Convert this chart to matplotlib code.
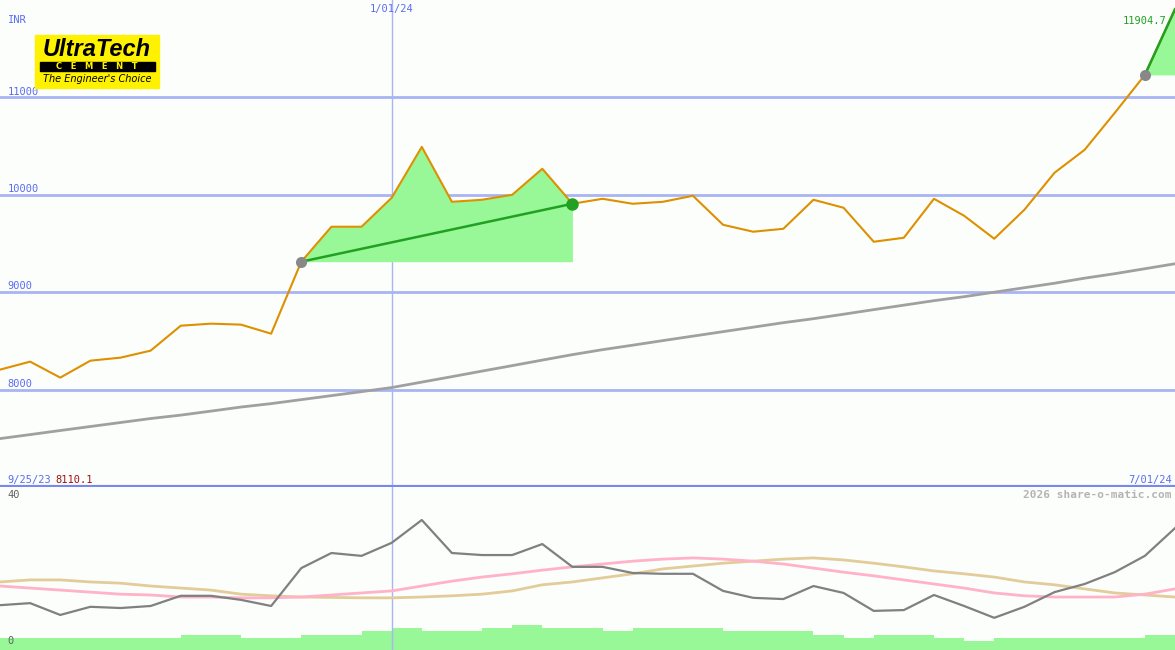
import numpy as np
import matplotlib
matplotlib.use("Agg")
import matplotlib.pyplot as plt
from matplotlib.patches import Rectangle

# weekly closes, 9/25/23 .. 7/01/24 (INR)
price = [8205, 8287, 8123, 8297, 8328, 8400, 8656, 8677, 8667, 8574,
         9313, 9672, 9672, 9969, 10492, 9928, 9949, 10000, 10267, 9908,
         9959, 9908, 9928, 9990, 9692, 9621, 9651, 9949, 9867, 9518,
         9559, 9959, 9785, 9549, 9846, 10226, 10462, 10841, 11231, 11904.7]
# long moving average
ma_long = [7497, 7538, 7580, 7621, 7662, 7703, 7738, 7779, 7821, 7856,
           7897, 7938, 7979, 8021, 8077, 8133, 8190, 8246, 8303, 8359,
           8410, 8456, 8503, 8549, 8595, 8641, 8687, 8728, 8774, 8821,
           8867, 8913, 8954, 9000, 9046, 9092, 9144, 9190, 9241, 9292]
# lower panel indicators
osc = [11.0, 11.5, 8.6, 10.6, 10.3, 10.8, 13.3, 13.3, 12.3, 10.8,
       20.1, 23.8, 23.1, 26.3, 31.9, 23.8, 23.3, 23.3, 26.0, 20.4,
       20.4, 18.9, 18.7, 18.7, 14.5, 12.8, 12.5, 15.7, 14.0, 9.6,
       9.8, 13.5, 10.8, 7.9, 10.6, 14.2, 16.2, 19.1, 23.1, 29.9]
pink = [15.7, 15.2, 14.7, 14.2, 13.7, 13.5, 13.0, 13.0, 12.8, 12.8,
        13.0, 13.5, 14.0, 14.5, 15.7, 16.9, 17.9, 18.7, 19.6, 20.4,
        21.1, 21.8, 22.3, 22.6, 22.3, 21.8, 21.1, 20.1, 19.1, 18.2,
        17.2, 16.2, 15.2, 14.0, 13.3, 13.0, 13.0, 13.0, 13.7, 15.0]
tan = [16.7, 17.2, 17.2, 16.7, 16.4, 15.7, 15.2, 14.7, 13.7, 13.3,
       13.0, 12.9, 12.8, 12.8, 13.0, 13.3, 13.7, 14.5, 16.0, 16.7,
       17.7, 18.7, 19.9, 20.6, 21.3, 21.8, 22.3, 22.6, 22.1, 21.3,
       20.4, 19.4, 18.7, 17.9, 16.7, 16.0, 15.0, 14.0, 13.5, 13.0]
volume = [1.2, 1.2, 1.2, 1.2, 1.2, 1.2, 1.5, 1.5, 1.2, 1.2,
          1.5, 1.5, 1.9, 2.2, 1.9, 1.9, 2.2, 2.5, 2.2, 2.2,
          1.9, 2.2, 2.2, 2.2, 1.9, 1.9, 1.9, 1.5, 1.2, 1.5,
          1.5, 1.2, 0.9, 1.2, 1.2, 1.2, 1.2, 1.2, 1.5]
grid_levels = [8000, 9000, 10000, 11000]
jan_idx = 13
gain_spans = [(10, 19), (38, 39)]

bg = "#fcfefc"
blue = "#5a6cf0"
grid_blue = "#a8b4f4"
orange = "#dd9000"
fill_green = "#98f898"
dark_green = "#22a022"
mono = "DejaVu Sans Mono"

x = np.arange(len(price))

fig = plt.figure(figsize=(11.75, 6.5), dpi=100)
fig.patch.set_facecolor(bg)
ax = fig.add_axes([0, 163 / 650, 1, 487 / 650])
ax2 = fig.add_axes([0, 0, 1, 163 / 650])
for a in (ax, ax2):
    a.set_facecolor(bg)
    a.set_xlim(0, len(price) - 1)
    a.axis("off")
ax.set_ylim(7000, 12000)
ax2.set_ylim(0, 40)

# upper panel
for lv in grid_levels:
    ax.axhline(lv, color=grid_blue, lw=2, zorder=1)
    ax.text(0.25, lv + 60, str(lv), color=blue, fontsize=7.5, family=mono, va="center")
ax.axvline(jan_idx, color=grid_blue, lw=1, zorder=1)
ax.axhline(7000, color="#7888f0", lw=3, zorder=5)

ax.plot(x, ma_long, color="#a0a0a0", lw=2, zorder=2)

for s, e in gain_spans:
    xs = x[s:e + 1]
    ps = np.array(price[s:e + 1])
    ax.fill_between(xs, price[s], ps, color=fill_green, lw=0, zorder=2)
    ax.plot([s, e], [price[s], price[e]], color=dark_green, lw=1.8, zorder=4)
    ax.plot(s, price[s], "o", ms=8, color="#888888", mec="none", zorder=5)
ax.plot(19, price[19], "o", ms=9, color=dark_green, mec="none", zorder=5)

ax.plot(x, price, color=orange, lw=1.5, zorder=3)

ax.text(0.25, 11790, "INR", color=blue, fontsize=7.5, family=mono, va="center")
ax.text(jan_idx, 11910, "1/01/24", color=blue, fontsize=7.5, family=mono, ha="center", va="center")
ax.text(38.72, 11780, "11904.7", color=dark_green, fontsize=7.5, family=mono, ha="right",
        va="center", zorder=6)
ax.text(0.25, 7070, "9/25/23", color=blue, fontsize=7.5, family=mono, va="center")
ax.text(1.83, 7070, "8110.1", color="#a01010", fontsize=7.5, family=mono, va="center")
ax.text(38.9, 7070, "7/01/24", color=blue, fontsize=7.5, family=mono, ha="right", va="center")

# logo
fig.patches.append(Rectangle((35 / 1175, 1 - 88 / 650), 124 / 1175, 53 / 650,
                             transform=fig.transFigure, color="#fff200", zorder=6))
fig.patches.append(Rectangle((40 / 1175, 1 - 71 / 650), 115 / 1175, 9 / 650,
                             transform=fig.transFigure, color="black", zorder=7))
fig.text(97 / 1175, 1 - 49 / 650, "UltraTech", fontsize=17, fontweight="heavy", style="italic",
         color="black", ha="center", va="center", family="Liberation Sans", zorder=8)
fig.text(97 / 1175, 1 - 66.5 / 650, "C   E   M   E   N   T", fontsize=6, fontweight="bold",
         color="#fff200", ha="center", va="center", zorder=8)
fig.text(97 / 1175, 1 - 79 / 650, "The Engineer's Choice", fontsize=7, style="italic",
         color="black", ha="center", va="center", zorder=8)

# lower panel
axv = ax2.twinx()
axv.set_ylim(0, 16.3)
axv.axis("off")
axv.bar(x[:-1], volume, width=1.0, align="edge", color=fill_green, lw=0, zorder=1)
ax2.set_zorder(axv.get_zorder() + 1)
ax2.patch.set_visible(False)
axv.set_zorder(0)

ax2.axvline(jan_idx, color=grid_blue, lw=1, zorder=1)
ax2.plot(x, tan, color="#e2cc9a", lw=2, zorder=2)
ax2.plot(x, pink, color="#ffb2c8", lw=2, zorder=2)
ax2.plot(x, osc, color="#808080", lw=1.6, zorder=3)
ax2.text(0.25, 38.0, "40", color="#606060", fontsize=7.5, family=mono, va="center")
ax2.text(0.25, 2.3, "0", color="#606060", fontsize=7.5, family=mono, va="center")
ax2.text(38.9, 38.0, "2026 share-o-matic.com", color="#b4b4b4", fontsize=8, family=mono,
         fontweight="bold", ha="right", va="center")

fig.savefig("out.png", dpi=100, facecolor=bg)
